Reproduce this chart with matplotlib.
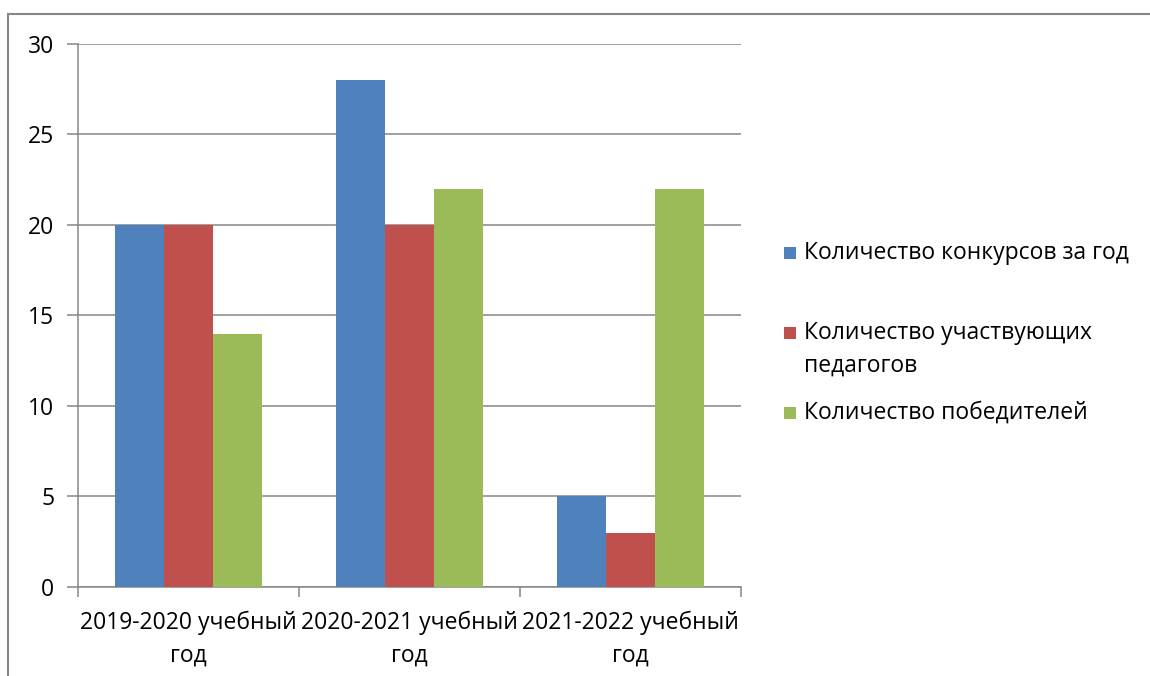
import numpy as np
import matplotlib
matplotlib.use("Agg")
import matplotlib.pyplot as plt
from matplotlib.lines import Line2D
from matplotlib.patches import Rectangle

plt.rcParams['font.family'] = ['Open Sans', 'DejaVu Sans']

categories = ["2019-2020 учебный\nгод", "2020-2021 учебный\nгод", "2021-2022 учебный\nгод"]
series_names = ["Количество конкурсов за год", "Количество участвующих\nпедагогов", "Количество победителей"]
contests = [20, 28, 5]
teachers = [20, 20, 3]
winners = [14, 22, 22]
colors = ["#4F81BD", "#C0504D", "#9BBB59"]

fig = plt.figure(figsize=(11.5, 6.76), dpi=100)
ax = fig.add_axes([0.0678, 0.1317, 0.5765, 0.8033])

x = np.arange(len(categories))
w = 0.222
for i, vals in enumerate([contests, teachers, winners]):
    ax.bar(x + (i - 1) * w, vals, width=w, color=colors[i], zorder=3)

grid_c = "#868686"
ax.set_xlim(-0.5, 2.5)
ax.set_ylim(0, 30)
ax.set_yticks(range(0, 31, 5))
ax.yaxis.grid(True, color=grid_c, linewidth=1.1, zorder=0)
for s in ["top", "right"]:
    ax.spines[s].set_visible(False)
for s in ["left", "bottom"]:
    ax.spines[s].set_color(grid_c)
    ax.spines[s].set_linewidth(1.1)

ax.set_xticks([-0.5, 0.5, 1.5, 2.5])
ax.set_xticklabels([])
ax.set_xticks(x, minor=True)
ax.set_xticklabels(categories, minor=True, fontsize=16.5, linespacing=1.5)
ax.tick_params(axis="x", which="minor", length=0, pad=17)
ax.tick_params(axis="x", which="major", length=7, color=grid_c, width=1.1)
ax.tick_params(axis="y", length=8, color=grid_c, width=1.1, labelsize=16.5, pad=9)

# legend entries: square at first line, text block centred
square_y = [0.626, 0.507, 0.389]
text_y = [0.626, 0.483, 0.389]
for name, c, sy, ty in zip(series_names, colors, square_y, text_y):
    fig.add_artist(Rectangle((0.682, sy - 0.009), 0.0105, 0.018, transform=fig.transFigure,
                             facecolor=c, edgecolor="none"))
    fig.text(0.699, ty, name, fontsize=16.5, va="center", linespacing=1.45,
             transform=fig.transFigure)

# outer chart border
fig.add_artist(Line2D([8 / 1150, 1], [1 - 14 / 676, 1 - 14 / 676], color="#878787", linewidth=1.5,
                      transform=fig.transFigure))
fig.add_artist(Line2D([8 / 1150, 8 / 1150], [0, 1 - 14 / 676], color="#878787", linewidth=1.5,
                      transform=fig.transFigure))

fig.savefig("out.png", dpi=100)
